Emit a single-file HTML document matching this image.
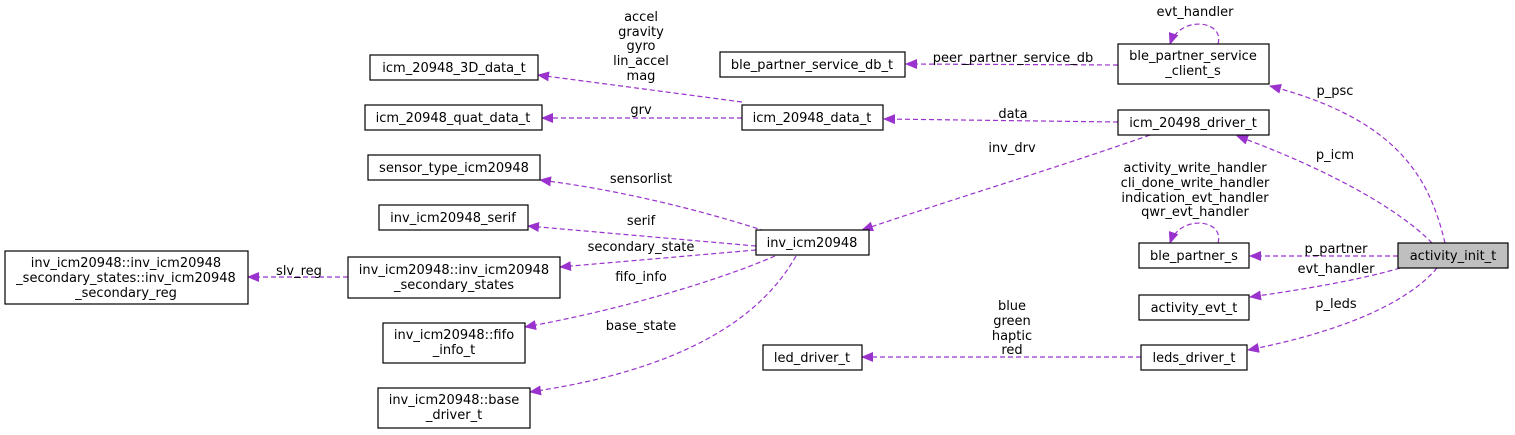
<!DOCTYPE html>
<html><head><meta charset="utf-8"><style>
html,body{margin:0;padding:0;background:#fff;}
svg{display:block;}
text{font-family:"DejaVu Sans","Liberation Sans",sans-serif;font-size:13px;fill:#000;}
.b{fill:#fff;stroke:#000;stroke-width:1.2;}
.e{fill:none;stroke:#9a32cd;stroke-width:1.2;stroke-dasharray:5,3;}
</style></head><body>
<svg width="1515" height="435" viewBox="0 0 1515 435" xmlns="http://www.w3.org/2000/svg">
<defs>
<marker id="a" markerWidth="12" markerHeight="10" refX="11" refY="5" orient="auto" markerUnits="userSpaceOnUse">
<path d="M0,0 L12,5 L0,10 z" fill="#9a32cd"/>
</marker>
</defs>
<g text-anchor="middle">
<path class="e" marker-end="url(#a)" d="M1445,243 C1430,180 1400,120 1270,86"/>
<path class="e" marker-end="url(#a)" d="M1432,243 C1400,210 1330,170 1237,136"/>
<path class="e" marker-end="url(#a)" d="M1398,256 L1250,256"/>
<path class="e" marker-end="url(#a)" d="M1400,268 C1360,280 1300,290 1250,297"/>
<path class="e" marker-end="url(#a)" d="M1437,268 C1410,300 1350,330 1248,350"/>
<path class="e" marker-end="url(#a)" d="M1218,44 C1225,20 1180,15 1170,44"/>
<path class="e" marker-end="url(#a)" d="M1218,243 C1225,219 1180,214 1170,243"/>
<path class="e" marker-end="url(#a)" d="M1118,65 L906,64"/>
<path class="e" marker-end="url(#a)" d="M1118,122 L884,119"/>
<path class="e" marker-end="url(#a)" d="M1150,135 C1050,170 950,200 862,230"/>
<path class="e" marker-end="url(#a)" d="M1141,357 L862,357"/>
<path class="e" marker-end="url(#a)" d="M742,102 L538,75"/>
<path class="e" marker-end="url(#a)" d="M742,118 L542,118"/>
<path class="e" marker-end="url(#a)" d="M765,231 C700,210 620,190 540,180"/>
<path class="e" marker-end="url(#a)" d="M756,246 L528,226"/>
<path class="e" marker-end="url(#a)" d="M756,250 L560,267"/>
<path class="e" marker-end="url(#a)" d="M775,256 C720,280 620,310 525,327"/>
<path class="e" marker-end="url(#a)" d="M796,256 C760,320 680,370 530,392"/>
<path class="e" marker-end="url(#a)" d="M348,277 L248,277"/>
<text x="641" y="21">accel</text><text x="641" y="36">gravity</text><text x="641" y="50">gyro</text><text x="641" y="65">lin_accel</text><text x="641" y="80">mag</text>
<text x="641" y="114">grv</text>
<text x="641" y="183">sensorlist</text>
<text x="641" y="225">serif</text>
<text x="641" y="251">secondary_state</text>
<text x="641" y="281">fifo_info</text>
<text x="641" y="330">base_state</text>
<text x="299" y="275">slv_reg</text>
<text x="1013" y="62">peer_partner_service_db</text>
<text x="1013" y="118">data</text>
<text x="1012" y="152">inv_drv</text>
<text x="1195" y="16">evt_handler</text>
<text x="1335" y="95">p_psc</text>
<text x="1335" y="159">p_icm</text>
<text x="1195" y="172">activity_write_handler</text>
<text x="1195" y="187">cli_done_write_handler</text>
<text x="1195" y="202">indication_evt_handler</text>
<text x="1195" y="216">qwr_evt_handler</text>
<text x="1336" y="253">p_partner</text>
<text x="1336" y="273">evt_handler</text>
<text x="1336" y="308">p_leds</text>
<text x="1012" y="310">blue</text><text x="1012" y="325">green</text><text x="1012" y="340">haptic</text><text x="1012" y="354">red</text>
<rect class="b" x="370" y="55" width="168" height="25"/><text x="454" y="72">icm_20948_3D_data_t</text>
<rect class="b" x="365" y="105" width="177" height="25"/><text x="453" y="122">icm_20948_quat_data_t</text>
<rect class="b" x="368" y="155" width="172" height="25"/><text x="454" y="172">sensor_type_icm20948</text>
<rect class="b" x="379" y="205" width="149" height="25"/><text x="453" y="222">inv_icm20948_serif</text>
<rect class="b" x="348" y="257" width="212" height="41"/><text x="454" y="274">inv_icm20948::inv_icm20948</text><text x="454" y="289">_secondary_states</text>
<rect class="b" x="5" y="251" width="243" height="53"/><text x="126" y="267">inv_icm20948::inv_icm20948</text><text x="126" y="282">_secondary_states::inv_icm20948</text><text x="126" y="297">_secondary_reg</text>
<rect class="b" x="383" y="323" width="142" height="40"/><text x="454" y="339">inv_icm20948::fifo</text><text x="454" y="354">_info_t</text>
<rect class="b" x="378" y="388" width="152" height="40"/><text x="454" y="404">inv_icm20948::base</text><text x="454" y="419">_driver_t</text>
<rect class="b" x="720" y="52" width="185" height="25"/><text x="812" y="69">ble_partner_service_db_t</text>
<rect class="b" x="742" y="105" width="141" height="25"/><text x="812" y="122">icm_20948_data_t</text>
<rect class="b" x="756" y="230" width="113" height="25"/><text x="812" y="247">inv_icm20948</text>
<rect class="b" x="763" y="345" width="99" height="25"/><text x="812" y="362">led_driver_t</text>
<rect class="b" x="1118" y="44" width="151" height="40"/><text x="1193" y="60">ble_partner_service</text><text x="1193" y="75">_client_s</text>
<rect class="b" x="1118" y="110" width="151" height="25"/><text x="1193" y="127">icm_20498_driver_t</text>
<rect class="b" x="1139" y="243" width="110" height="25"/><text x="1194" y="260">ble_partner_s</text>
<rect class="b" x="1139" y="295" width="110" height="25"/><text x="1194" y="312">activity_evt_t</text>
<rect class="b" x="1141" y="345" width="106" height="25"/><text x="1194" y="362">leds_driver_t</text>
<rect x="1398" y="243" width="110" height="25" fill="#bfbfbf" stroke="#000" stroke-width="1.2"/><text x="1453" y="260">activity_init_t</text>
</g>
</svg>
</body></html>
